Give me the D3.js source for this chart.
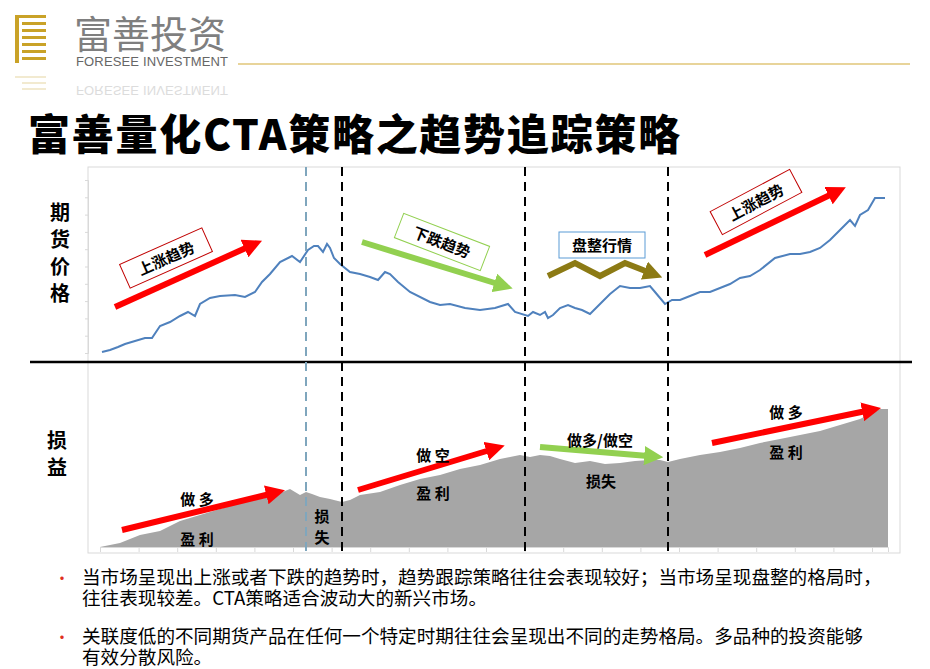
<!DOCTYPE html><html><head><meta charset="utf-8"><script src="https://d3js.org/d3.v7.min.js"></script>
<style>body{margin:0;background:#fff}svg{font-family:"Noto Sans CJK SC","Noto Sans",sans-serif}</style></head><body><svg id="c" width="930" height="669"></svg>
<script>
const priceX=[102,110,118,125,135,145,152,160,170,180,188,195,200,210,220,235,245,255,262,270,280,292,300,308,314,318,323,327,330,334,340,350,360,370,378,385,390,398,410,430,440,450,465,480,495,508,515,528,533,540,545,548,553,560,568,575,582,590,600,610,620,630,640,650,655,665,672,680,690,700,710,720,730,740,750,760,775,790,800,810,820,830,840,850,855,860,868,875,885];
const priceV=[8,10,13,16,19,22,22,34,38,44,48,44,56,62,64,65,63,68,78,86,98,104,98,110,114,114,108,116,112,102,96,88,86,83,80,88,86,78,68,58,55,56,52,50,52,56,48,44,48,45,48,42,45,52,55,52,50,46,56,66,74,72,72,74,68,56,60,60,64,68,68,72,76,82,84,90,102,106,106,108,112,120,130,140,134,145,150,162,162];
const pnlX=[100,120,140,160,180,200,220,240,260,270,280,290,295,300,306,312,320,330,342,350,360,380,400,420,440,460,480,490,500,510,520,530,540,550,560,575,590,605,620,635,650,660,668,680,700,720,740,760,780,800,820,840,860,870,880,888];
const pnlV=[0,4,12,16,26,32,38,44,48,50,54,58,55,52,55,53,50,48,45,47,52,55,62,68,72,78,82,85,88,90,92,90,92,91,88,84,86,83,84,86,87,87,85,88,92,95,99,104,108,112,116,122,128,133,138,138];
const bullets=[["当市场呈现出上涨或者下跌的趋势时，趋势跟踪策略往往会表现较好；当市场呈现盘整的格局时，","往往表现较差。CTA策略适合波动大的新兴市场。"],["关联度低的不同期货产品在任何一个特定时期往往会呈现出不同的走势格局。多品种的投资能够","有效分散风险。"]];
const regionX=[342,525,668];

const svg=d3.select("#c");
const x=d3.scaleLinear().domain([100,888]).range([100,888]);
const yP=d3.scaleLinear().domain([0,200]).range([360,160]);
const yL=d3.scaleLinear().domain([0,140]).range([547,407]);
const defs=svg.append("defs");
function marker(id,c){defs.append("marker").attr("id",id).attr("viewBox","0 0 10 10").attr("refX",2).attr("refY",5).attr("markerWidth",3.2).attr("markerHeight",3.2).attr("orient","auto").append("path").attr("d","M0,0L10,5L0,10z").attr("fill",c);}
marker("mr","#ff0000");marker("mg","#92d050");marker("mo","#8c7a14");

const g=svg.append("g");
g.append("rect").attr("x",15).attr("y",15).attr("width",4).attr("height",48).attr("fill","#c9a227");
[[15,15,31],[22,22,24],[22,29,24],[22,36,24],[22,43,24],[22,50,24],[22,57,24]].forEach(r=>g.append("rect").attr("x",r[0]).attr("y",r[1]).attr("width",r[2]).attr("height",3).attr("fill","#c9a227"));
[[15,76,31],[22,82,24],[22,88,24]].forEach(r=>g.append("rect").attr("x",r[0]).attr("y",r[1]).attr("width",r[2]).attr("height",2).attr("fill","#f2ead0"));
g.append("text").attr("x",74).attr("y",48).attr("font-size",38).attr("fill","#7f7f7f").text("富善投资");
g.append("text").attr("x",76).attr("y",66).attr("font-size",13).attr("textLength",152).attr("fill","#666").attr("font-family","Liberation Sans Narrow, Liberation Sans").text("FORESEE INVESTMENT");
g.append("text").attr("transform","translate(76,73) scale(1,-1)").attr("y",-13).attr("font-size",13).attr("textLength",152).attr("fill","#dcdcdc").attr("font-family","Liberation Sans Narrow, Liberation Sans").text("FORESEE INVESTMENT");
g.append("line").attr("x1",238).attr("x2",910).attr("y1",64).attr("y2",64).attr("stroke","#e8d49a").attr("stroke-width",2);

svg.append("text").attr("x",28).attr("y",150).attr("font-size",42).attr("font-weight",900).attr("fill","#000").attr("textLength",652).text("富善量化CTA策略之趋势追踪策略");

svg.append("rect").attr("x",88).attr("y",167).attr("width",812).attr("height",386).attr("fill","none").attr("stroke","#d9d9d9");
svg.append("g").attr("transform","translate(88,0)").call(d3.axisLeft(d3.scaleLinear().domain([0,10]).range([353,180])).ticks(10).tickSize(3).tickFormat("")).call(a=>a.selectAll("line,path").attr("stroke","#d9d9d9"));
svg.append("g").attr("transform","translate(0,547)").call(d3.axisBottom(x).tickValues(d3.range(100,900,38.6)).tickSize(5).tickFormat("")).call(a=>a.selectAll("line,path").attr("stroke","#d9d9d9"));

svg.append("path").datum(pnlX.map((v,i)=>[v,pnlV[i]])).attr("fill","#a6a6a6")
 .attr("d",d3.area().x(d=>x(d[0])).y0(yL(0)).y1(d=>yL(d[1])));
svg.append("path").datum(priceX.map((v,i)=>[v,priceV[i]])).attr("fill","none").attr("stroke","#4f81bd").attr("stroke-width",2)
 .attr("d",d3.line().x(d=>x(d[0])).y(d=>yP(d[1])));

svg.append("line").attr("x1",30).attr("x2",912).attr("y1",362).attr("y2",362).attr("stroke","#000").attr("stroke-width",2.5);
svg.append("line").attr("x1",306).attr("x2",306).attr("y1",167).attr("y2",553).attr("stroke","#7fa6bd").attr("stroke-width",2).attr("stroke-dasharray","9,6");
regionX.forEach(v=>svg.append("line").attr("x1",v).attr("x2",v).attr("y1",167).attr("y2",553).attr("stroke","#000").attr("stroke-width",2).attr("stroke-dasharray","9,6"));

[["期",220],["货",247],["价",274],["格",301]].forEach(d=>svg.append("text").attr("x",60).attr("y",d[1]).attr("text-anchor","middle").attr("font-size",20).attr("font-weight",700).text(d[0]));
[["损",448],["益",475]].forEach(d=>svg.append("text").attr("x",57).attr("y",d[1]).attr("text-anchor","middle").attr("font-size",20).attr("font-weight",700).text(d[0]));

function arrow(pts,c,m,w){svg.append("path").attr("d",d3.line()(pts)).attr("fill","none").attr("stroke",c).attr("stroke-width",w||6).attr("marker-end",`url(#${m})`);}
arrow([[115,307],[248,247]],"#ff0000","mr");
arrow([[362,242],[498,284]],"#92d050","mg");
arrow([[548,276],[575,263],[600,276],[625,263],[648,272]],"#8c7a14","mo");
arrow([[705,255],[832,194]],"#ff0000","mr");
arrow([[122,530],[270,494]],"#ff0000","mr");
arrow([[358,490],[490,450]],"#ff0000","mr");
arrow([[540,447],[648,456]],"#92d050","mg");
arrow([[712,443],[866,411]],"#ff0000","mr");

function box(cx,cy,rot,txt,stroke,w){const b=svg.append("g").attr("transform",`translate(${cx},${cy}) rotate(${rot})`);
 b.append("rect").attr("x",-w/2).attr("y",-13).attr("width",w).attr("height",26).attr("fill","#fff").attr("stroke",stroke);
 b.append("text").attr("y",6).attr("text-anchor","middle").attr("font-size",15).attr("font-weight",700).text(txt);}
box(166,258,-24,"上涨趋势","#c00000",90);
box(442,242,21,"下跌趋势","#92d050",92);
box(602,245,0,"盘整行情","#5b9bd5",86);
box(756,202,-28,"上涨趋势","#c00000",90);

[["做 多",197,505],["盈 利",197,545],["损",322,522],["失",322,543],["做 空",433,461],["盈 利",433,499],["做多/做空",600,446],["损失",601,487],["做 多",786,418],["盈 利",786,458]]
 .forEach(d=>svg.append("text").attr("x",d[1]).attr("y",d[2]).attr("text-anchor","middle").attr("font-size",15).attr("font-weight",700).text(d[0]));

bullets.forEach((b,i)=>{const y0=584+i*59;
 svg.append("text").attr("x",54).attr("y",y0).attr("font-size",16).attr("fill","#e0301e").text("•");
 b.forEach((l,j)=>svg.append("text").attr("x",82).attr("y",y0+j*21).attr("font-size",18.6).attr("fill","#000").text(l));});
</script></body></html>
